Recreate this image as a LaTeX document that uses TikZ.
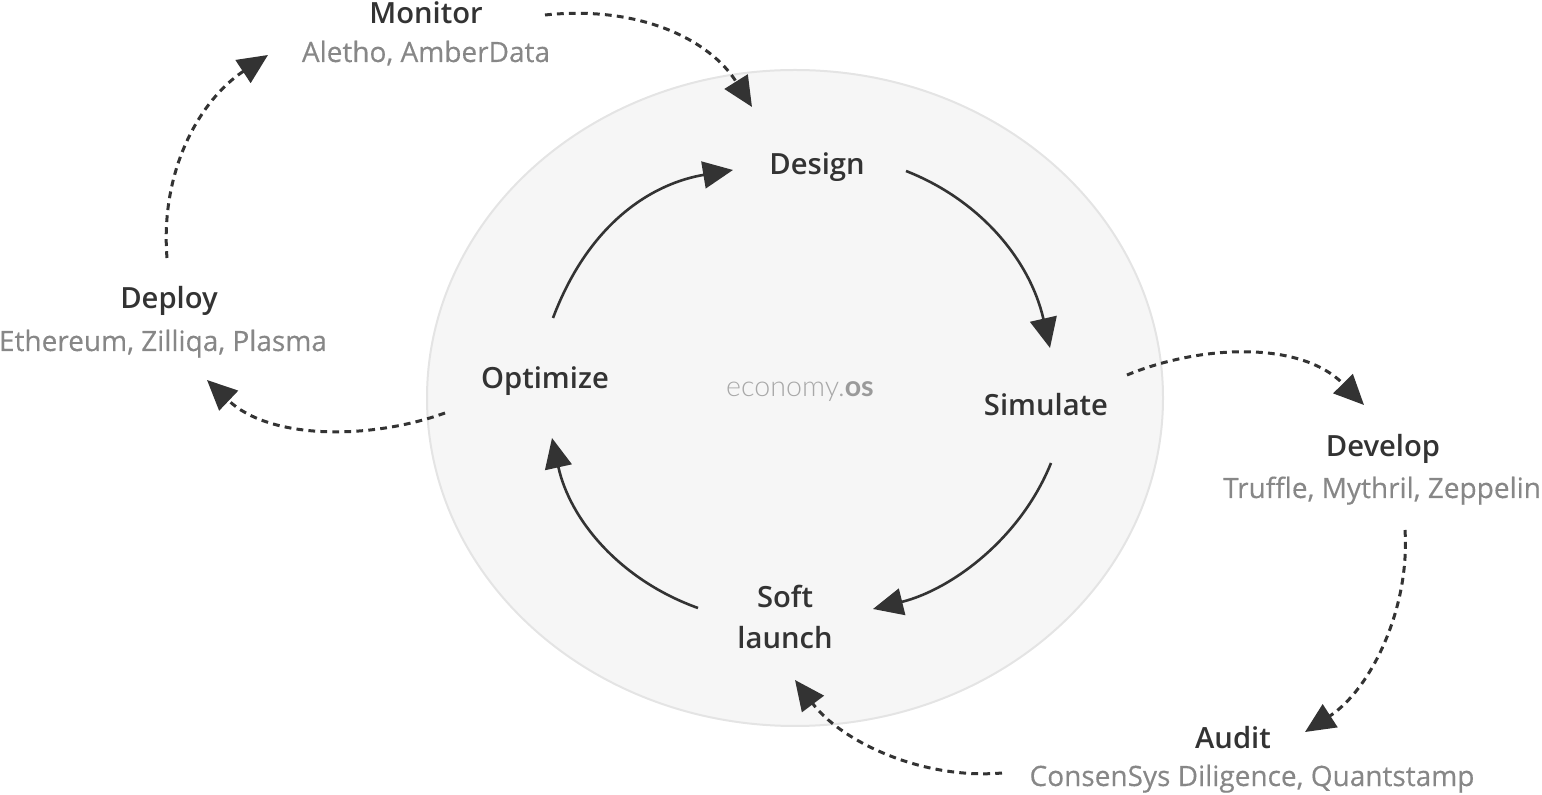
\documentclass[tikz,border=0pt]{standalone}
\usepackage{fontspec}
\IfFontExistsTF{Open Sans SemiBold}{\newfontfamily\semifont{Open Sans SemiBold}}{%
 \IfFontExistsTF{Open Sans Semibold}{\newfontfamily\semifont{Open Sans Semibold}}{%
  \IfFontExistsTF{OpenSans-SemiBold.ttf}{\newfontfamily\semifont{OpenSans-SemiBold.ttf}}{%
   \IfFontExistsTF{OpenSans-Semibold.ttf}{\newfontfamily\semifont{OpenSans-Semibold.ttf}}{%
    \newfontfamily\semifont{Open Sans}[FakeBold=1.6]}}}}
\setmainfont{Open Sans}
\newfontfamily\subfont{Open Sans}[FakeBold=0.35]
\IfFontExistsTF{Lato Light}{\newfontfamily\thinfont{Lato Light}}{\newfontfamily\thinfont{Lato}}
\newfontfamily\latofont{Lato}
\usetikzlibrary{arrows.meta}
\definecolor{ink}{HTML}{333333}
\definecolor{sub}{HTML}{878787}
\definecolor{blob}{HTML}{F6F6F6}
\definecolor{blobline}{HTML}{E4E4E4}
\begin{document}
\begin{tikzpicture}[x=0.5pt,y=-0.5pt,
  title/.style={anchor=base,inner sep=0pt,text=ink,font=\fontsize{14.6pt}{17pt}\semifont},
  subt/.style={anchor=base,inner sep=0pt,text=sub,font=\fontsize{14pt}{17pt}\subfont},
  cyc/.style={draw=ink,line width=1.3pt,-{Triangle[length=15pt,width=13.5pt]}},
  dashline/.style={draw=ink,line width=1.5pt,dash pattern=on 3.4pt off 2.6pt,-{Triangle[length=15pt,width=13.5pt]}}
]
\useasboundingbox (0,0) rectangle (1542,795);
\path[fill=blob,draw=blobline,line width=1pt] (795,398) ellipse [x radius=184pt,y radius=164pt];

\node[title] (monitor) at (426,24) {Monitor};
\node[subt] (monitorsub) at (426,62) {Aletho, AmberData};
\node[title] (deploy) at (169,309) {Deploy};
\node[subt] (deploysub) at (163,351) {Ethereum, Zilliqa, Plasma};
\node[title] (develop) at (1383,457) {Develop};
\node[subt] (developsub) at (1382,498) {Truffle, Mythril, Zeppelin};
\node[title] (audit) at (1233,749) {Audit};
\node[subt] (auditsub) at (1252,786) {ConsenSys Diligence, Quantstamp};
\node[title] (design) at (817,175) {Design};
\node[title] (optimize) at (545,389) {Optimize};
\node[title] (simulate) at (1046,416) {Simulate};
\node[title] (soft) at (785,608) {Soft};
\node[title] (launch) at (785,649) {launch};
\node[anchor=base,inner sep=0pt,font=\fontsize{14.3pt}{15pt}\selectfont] (eco) at (800,397) {{\thinfont\color[HTML]{A8A8A8}economy.}{\latofont\bfseries\color[HTML]{9A9A9A}os}};

% cycle endpoints
\coordinate (o1) at (553,318); \coordinate (d1) at (733,170);
\coordinate (d2) at (906,171); \coordinate (s1) at (1050,348);
\coordinate (s2) at (1051,463); \coordinate (l1) at (873,609);
\coordinate (l2) at (698,608); \coordinate (o2) at (552,438);
% dashed endpoints
\coordinate (m1) at (545,15); \coordinate (d0) at (752,107);
\coordinate (s3) at (1127,375); \coordinate (v1) at (1364,405);
\coordinate (v2) at (1405,530); \coordinate (a1) at (1305,732);
\coordinate (a2) at (1002,773); \coordinate (l3) at (795,680);
\coordinate (o3) at (445,413); \coordinate (p1) at (207,380);
\coordinate (p2) at (167,258); \coordinate (m2) at (268,55);

\draw[cyc] (o1) .. controls (590,220) and (655,183) .. (d1);
\draw[cyc] (d2) .. controls (980,200) and (1030,260) .. (s1);
\draw[cyc] (s2) .. controls (1020,540) and (950,590) .. (l1);
\draw[cyc] (l2) .. controls (620,580) and (570,520) .. (o2);

\draw[dashline] (m1) .. controls (640,5) and (710,40) .. (d0);
\draw[dashline] (s3) .. controls (1200,345) and (1300,340) .. (v1);
\draw[dashline] (v2) .. controls (1410,610) and (1370,690) .. (a1);
\draw[dashline] (a2) .. controls (920,780) and (840,740) .. (l3);
\draw[dashline] (o3) .. controls (370,440) and (270,440) .. (p1);
\draw[dashline] (p2) .. controls (160,170) and (200,100) .. (m2);
\end{tikzpicture}
\end{document}
